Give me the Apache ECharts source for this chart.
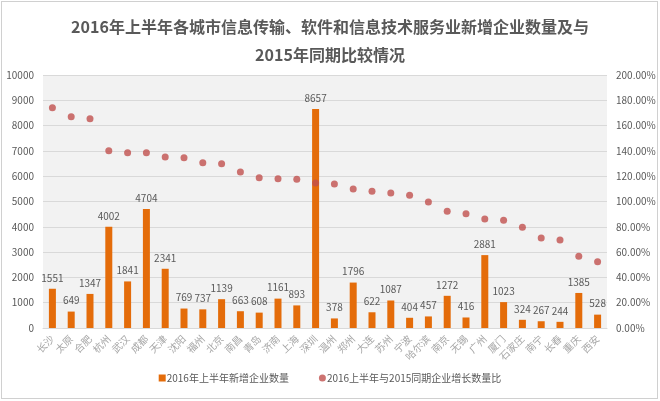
<!DOCTYPE html>
<html>
<head>
<meta charset="utf-8">
<script src="https://cdn.jsdelivr.net/npm/echarts@6/dist/echarts.min.js"></script>
<style>
html,body{margin:0;padding:0;background:#fff;}
#wrap{position:relative;width:660px;height:401px;}
#chart{width:660px;height:401px;}
#frame{position:absolute;left:1px;top:1px;width:655px;height:396px;border:1px solid #d0d0d0;pointer-events:none;}
</style>
</head>
<body>
<div id="wrap"><div id="chart"></div><div id="frame"></div></div>
<script>
const cities = ['长沙','太原','合肥','杭州','武汉','成都','天津','沈阳','福州','北京','南昌','青岛','济南','上海','深圳','温州','郑州','大连','苏州','宁波','哈尔滨','南京','无锡','广州','厦门','石家庄','南宁','长春','重庆','西安'];
const newFirms = [1551,649,1347,4002,1841,4704,2341,769,737,1139,663,608,1161,893,8657,378,1796,622,1087,404,457,1272,416,2881,1023,324,267,244,1385,528];
const growthPct = [174.2,167.0,165.5,140.2,138.6,138.6,135.2,134.6,130.7,129.9,123.3,118.8,118.0,117.5,114.6,113.8,109.9,108.1,106.7,104.9,99.6,92.2,90.4,86.2,85.1,79.6,71.1,69.6,56.7,52.4];
const seriesNames = ['2016年上半年新增企业数量','2016上半年与2015同期企业增长数量比'];
const titleText = '2016年上半年各城市信息传输、软件和信息技术服务业新增企业数量及与\n2015年同期比较情况';

const chart = echarts.init(document.getElementById('chart'), null, {renderer:'canvas'});
const font = '"Noto Sans CJK SC","Noto Sans",sans-serif';
chart.setOption({
  animation:false,
  textStyle:{fontFamily:font},
  title:{text:titleText,left:'center',top:8,textStyle:{fontSize:16,fontWeight:'bold',color:'#595959',lineHeight:28,fontFamily:font}},
  legend:{bottom:13,left:'center',itemGap:30,itemWidth:7,itemHeight:7,
    textStyle:{fontSize:10,color:'#595959',padding:[0,0,0,-4]},
    data:[{name:seriesNames[0],icon:'rect'},{name:seriesNames[1],icon:'circle'}]},
  grid:{left:43,right:53,top:75,bottom:73,show:true,backgroundColor:'#f2f2f2',borderWidth:0},
  xAxis:{type:'category',data:cities,
    axisLine:{show:true,lineStyle:{color:'#d9d9d9'}},axisTick:{show:false},
    axisLabel:{interval:0,rotate:45,fontSize:10,color:'#a6a6a6',margin:9}},
  yAxis:[
    {type:'value',min:0,max:10000,interval:1000,
     axisLine:{show:false},axisTick:{show:false},
     splitLine:{lineStyle:{color:'#d9d9d9'}},
     axisLabel:{fontSize:10,color:'#595959',margin:9,formatter:v=>String(v)}},
    {type:'value',min:0,max:200,interval:20,position:'right',
     axisLine:{show:false},axisTick:{show:false},splitLine:{show:false},
     axisLabel:{fontSize:10,color:'#595959',margin:9,formatter:v=>v.toFixed(2)+'%'}}
  ],
  series:[
    {name:seriesNames[0],type:'bar',data:newFirms,barWidth:7,yAxisIndex:0,
     itemStyle:{color:'#e46c0a'},
     label:{show:true,position:'top',fontSize:10,color:'#595959',distance:6}},
    {name:seriesNames[1],type:'scatter',data:growthPct,yAxisIndex:1,symbolSize:7,
     itemStyle:{color:'#c0504d'}}
  ]
});
</script>
</body>
</html>
